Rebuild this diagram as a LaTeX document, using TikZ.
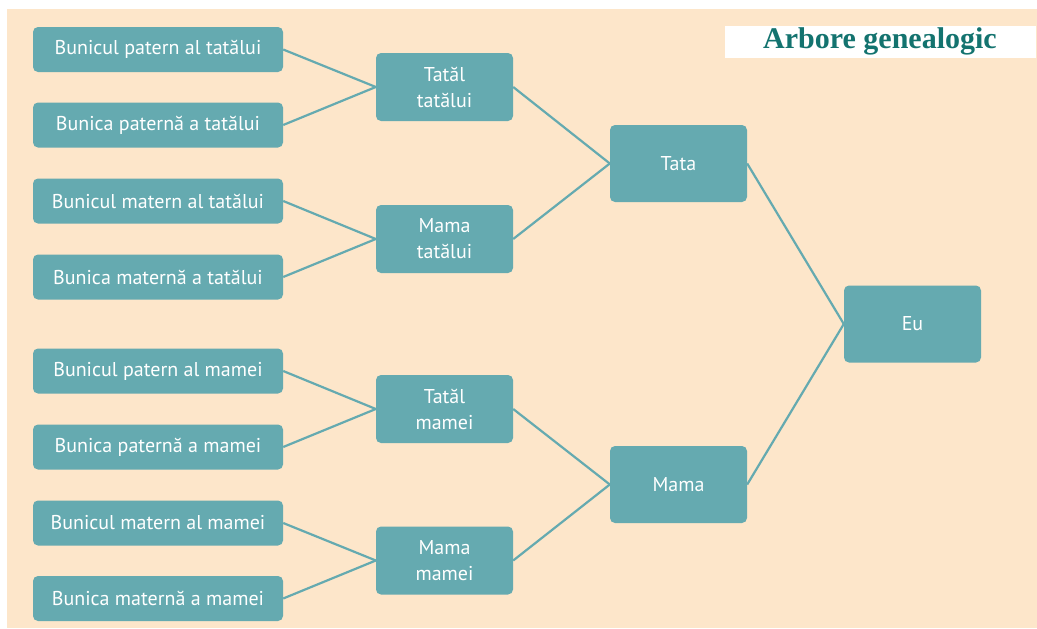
\documentclass[tikz,border=0pt]{standalone}
\usepackage{fontspec}
\setmainfont{PT Sans}
\newfontfamily\titlefont{Liberation Serif}
\definecolor{bg}{HTML}{FDE6CA}
\definecolor{teal}{HTML}{65AAB0}
\definecolor{titlec}{HTML}{13736F}
\tikzset{
  person/.style={fill=teal, rounded corners=5pt, text=white, font=\fontsize{20}{26}\selectfont, align=center, inner sep=0pt},
  leaf/.style={person, minimum width=250pt, minimum height=45pt},
  mid/.style={person, minimum width=137pt, minimum height=68pt},
  big/.style={person, minimum width=137pt, minimum height=77pt},
  link/.style={draw=teal, line width=2.2pt}
}
\begin{document}
\begin{tikzpicture}[x=1pt,y=-1pt]
\useasboundingbox (0,0) rectangle (1037,629);
\fill[white] (0,0) rectangle (1037,629);
\fill[bg] (7,9) rectangle (1037,628);
\fill[white] (725,26) rectangle (1036,58);
\node[text=titlec, font=\titlefont\bfseries\fontsize{30}{32}\selectfont] (title) at (880,41) {Arbore genealogic};

\node[leaf] (a1) at (158,49.5) {Bunicul patern al tatălui};
\node[leaf] (a2) at (158,125) {Bunica paternă a tatălui};
\node[leaf] (a3) at (158,201) {Bunicul matern al tatălui};
\node[leaf] (a4) at (158,277) {Bunica maternă a tatălui};
\node[leaf] (a5) at (158,371) {Bunicul patern al mamei};
\node[leaf] (a6) at (158,447) {Bunica paternă a mamei};
\node[leaf] (a7) at (158,523) {Bunicul matern al mamei};
\node[leaf] (a8) at (158,598.5) {Bunica maternă a mamei};

\node[mid] (b1) at (444.5,87) {Tatăl\\tatălui};
\node[mid] (b2) at (444.5,239) {Mama\\tatălui};
\node[mid] (b3) at (444.5,409) {Tatăl\\mamei};
\node[mid] (b4) at (444.5,560.5) {Mama\\mamei};

\node[big] (c1) at (678.5,163.5) {Tata};
\node[big] (c2) at (678.5,484.5) {Mama};

\node[big] (eu) at (912.5,324) {Eu};

\foreach \s/\t in {a1/b1,a2/b1,a3/b2,a4/b2,a5/b3,a6/b3,a7/b4,a8/b4,b1/c1,b2/c1,b3/c2,b4/c2,c1/eu,c2/eu}
  \draw[link] (\s.east) -- (\t.west);
\end{tikzpicture}
\end{document}
